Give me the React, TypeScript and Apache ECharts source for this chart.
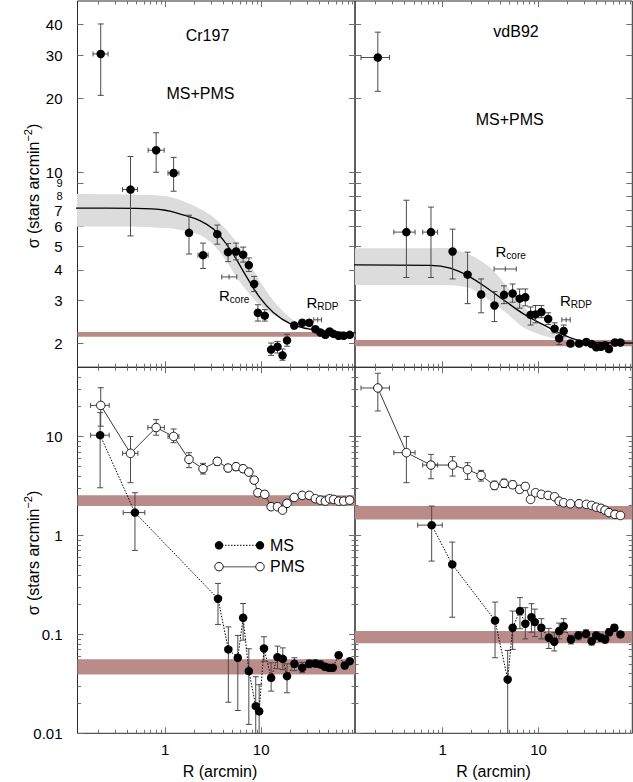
import React, { useEffect, useRef } from "react";
import * as echarts from "echarts";

const FONT = '"Liberation Sans", Arial, Helvetica, sans-serif';
const lg = (v: number) => Math.log10(v);

// ---------- axes ----------
const X_RANGE = [0.122, 95];
const Y_TOP_RANGE = [1.6, 50];
const Y_BOT_RANGE = [0.01, 50];

const X_MAJOR_TICKS = [1, 10];
const X_MINOR_TICKS = [0.2, 0.3, 0.4, 0.5, 0.6, 0.7, 0.8, 0.9, 2, 3, 4, 5, 6, 7, 8, 9, 20, 30, 40, 50, 60, 70, 80, 90];
const X_TICK_LABELS = [1, 10];
const Y_TOP_TICKS = [2, 3, 4, 5, 6, 7, 8, 9, 10, 20, 30, 40];
const Y_TOP_LABELS = [2, 3, 4, 5, 6, 7, 8, 9, 10, 20, 30, 40];
const Y_TOP_CROWDED_LABELS = [8, 9];
const Y_BOT_MAJOR_TICKS = [0.01, 0.1, 1, 10];
const Y_BOT_MINOR_TICKS = [0.02, 0.03, 0.04, 0.05, 0.06, 0.07, 0.08, 0.09, 0.2, 0.3, 0.4, 0.5, 0.6, 0.7, 0.8, 0.9, 2, 3, 4, 5, 6, 7, 8, 9, 20, 30, 40];
const Y_BOT_LABELS = [0.01, 0.1, 1, 10];

// ---------- Cr197 (MS+PMS, top left) ----------
const crR = [0.213, 0.435, 0.805, 1.224, 1.77, 2.48, 3.49, 4.52, 5.48, 6.49, 7.44, 8.45, 9.24, 10.9, 12.7, 14.8, 16.7, 18.6, 22.1, 26.8, 31.7, 36.7, 41.4, 46.6, 51.7, 56.9, 64.2, 72.4, 83.7];
const crAll = [30.4, 8.5, 12.3, 9.93, 5.66, 4.59, 5.59, 4.72, 4.75, 4.61, 4.18, 3.5, 2.67, 2.6, 1.89, 1.94, 1.79, 2.06, 2.37, 2.43, 2.43, 2.29, 2.22, 2.17, 2.24, 2.19, 2.15, 2.15, 2.17];
const crAllLo = [20.6, 5.5, 10.0, 8.37, 4.64, 4.05, 5.09, 4.32, 4.39, 4.3, 3.94, 3.26, 2.47, 2.47, 1.79, 1.83, 1.71, 1.95, 2.3, 2.37, 2.37, 2.24, 2.18, 2.13, 2.2, 2.15, 2.12, 2.12, 2.14];
const crAllHi = [40.3, 11.6, 14.5, 11.5, 6.68, 5.14, 6.09, 5.12, 5.14, 4.95, 4.47, 3.76, 2.88, 2.75, 2.01, 2.04, 1.9, 2.18, 2.44, 2.5, 2.5, 2.34, 2.27, 2.21, 2.28, 2.23, 2.18, 2.18, 2.2];
const crXLo = [0.177, 0.359, 0.664, 1.07, null, 2.2];
const crXHi = [0.254, 0.515, 0.976, 1.39, null, 2.8];
const crBg = [2.13, 2.23];
const crFitR = [0.09, 0.122, 0.5, 1.0, 1.5, 2.3, 3.2, 4.4, 5.5, 7.0, 9.7, 13.4, 20, 30, 50, 95, 130];
const crFit = [7.14, 7.14, 7.12, 7.0, 6.72, 6.35, 5.85, 5.05, 4.42, 3.76, 3.08, 2.68, 2.41, 2.3, 2.24, 2.21, 2.2];
const crFitHi = [8.15, 8.15, 8.1, 8.0, 7.65, 7.1, 6.55, 5.8, 5.2, 4.48, 3.6, 3.0, 2.55, 2.34, 2.25, 2.22, 2.21];
const crFitLo = [6.0, 6.0, 6.0, 5.92, 5.8, 5.55, 5.05, 4.3, 3.75, 3.31, 2.87, 2.62, 2.42, 2.3, 2.22, 2.19, 2.19];
// Rcore / RRDP markers: [R, sigma, Rlo, Rhi]
const crRcore = [4.63, 3.74, 3.89, 5.57];
const crRrdp = [38.8, 2.5, 35.3, 42.6];

// ---------- vdB92 (MS+PMS, top right) ----------
const vdR = [0.211, 0.419, 0.756, 1.27, 1.82, 2.52, 3.47, 4.37, 5.37, 6.35, 7.28, 8.26, 9.31, 10.7, 12.6, 14.7, 16.4, 18.3, 21.5, 26.5, 31.5, 35.8, 40.0, 44.8, 49.3, 54.2, 62.6, 71.5];
const vdAll = [29.4, 5.7, 5.7, 4.75, 3.82, 3.17, 2.86, 3.16, 3.2, 3.05, 3.09, 2.62, 2.63, 2.69, 2.52, 2.3, 2.1, 2.25, 2.0, 2.0, 2.03, 1.99, 1.93, 1.94, 1.97, 1.9, 2.02, 2.02];
const vdAllLo = [21.4, 3.72, 3.72, 3.67, 2.91, 2.67, 2.46, 2.91, 2.95, 2.79, 2.85, 2.38, 2.43, 2.55, 2.39, 2.21, 1.98, 2.13, 1.95, 1.95, 1.98, 1.95, 1.89, 1.9, 1.93, 1.86, 1.98, 1.98];
const vdAllHi = [37.3, 7.69, 7.21, 5.86, 4.72, 3.67, 3.26, 3.44, 3.5, 3.34, 3.34, 2.82, 2.86, 2.86, 2.67, 2.43, 2.21, 2.38, 2.05, 2.05, 2.08, 2.03, 1.97, 1.98, 2.01, 1.94, 2.06, 2.06];
const vdXLo = [0.141, 0.31, 0.62];
const vdXHi = [0.279, 0.516, 0.887];
const vdBg = [1.95, 2.07];
const vdFitR = [0.09, 0.122, 0.75, 1.2, 1.9, 3.1, 4.6, 6.9, 10.3, 15.4, 25, 43.5, 95, 130];
const vdFit = [4.19, 4.19, 4.17, 4.06, 3.75, 3.31, 2.96, 2.65, 2.43, 2.24, 2.07, 2.02, 2.01, 2.01];
const vdFitHi = [4.9, 4.9, 4.9, 4.88, 4.62, 4.1, 3.45, 2.85, 2.42, 2.16, 2.06, 2.03, 2.02, 2.02];
const vdFitLo = [3.47, 3.47, 3.47, 3.46, 3.37, 3.0, 2.67, 2.33, 2.18, 2.09, 2.03, 2.01, 2.0, 2.0];
const vdRcore = [4.5, 4.03, 3.44, 5.86];
const vdRrdp = [19.4, 2.5, 17.5, 21.4];

// ---------- Cr197 MS / PMS (bottom left) ----------
const crPms = [20.6, 6.75, 12.3, 10.0, 5.87, 4.72, 5.6, 4.8, 4.95, 4.72, 4.36, 3.62, 2.7, 2.6, 1.95, 1.95, 1.8, 2.11, 2.42, 2.54, 2.54, 2.35, 2.27, 2.22, 2.35, 2.31, 2.22, 2.22, 2.27];
const crPmsLo = [12.7, 3.41, 10.3, 8.65, 4.84, 4.17, 5.1, 4.4, 4.55, 4.35, 4.05, 3.35, 2.5, 2.42, 1.83, 1.84, 1.7, 2.0, 2.33, 2.45, 2.45, 2.28, 2.2, 2.16, 2.28, 2.24, 2.16, 2.16, 2.2];
const crPmsHi = [31.1, 10.0, 14.8, 11.9, 6.85, 5.35, 6.1, 5.2, 5.35, 5.1, 4.7, 3.9, 2.9, 2.8, 2.08, 2.07, 1.92, 2.23, 2.52, 2.63, 2.63, 2.42, 2.34, 2.28, 2.42, 2.38, 2.28, 2.28, 2.34];
const crPmsXLo = [0.167, 0.36, 0.66, 1.07];
const crPmsXHi = [0.261, 0.52, 0.98, 1.39];
const crMsR = [0.21, 0.484, 3.55, 4.55, 5.71, 6.49, 7.44, 8.78, 9.53, 10.7, 12.7, 14.8, 16.8, 18.6, 22.2, 26.8, 31.7, 36.7, 41.4, 46.2, 50.8, 55.7, 64.2, 74.4, 83.7];
const crMs = [10.3, 1.7, 0.229, 0.0704, 0.058, 0.147, 0.0425, 0.0188, 0.0167, 0.072, 0.0364, 0.0588, 0.0566, 0.0378, 0.0504, 0.046, 0.0504, 0.0508, 0.0497, 0.047, 0.046, 0.046, 0.0616, 0.0485, 0.0536];
const crMsLo = [3.03, 0.705, 0.126, 0.0206, 0.017, 0.0874, 0.0123, 0.005, 0.005, 0.0536, 0.0267, 0.0449, 0.044, 0.0257, 0.043, 0.041, 0.046, 0.047, 0.046, 0.044, 0.043, 0.043, 0.058, 0.045, 0.05];
const crMsHi = [17.4, 2.7, 0.327, 0.119, 0.0975, 0.205, 0.0715, 0.0373, 0.031, 0.0946, 0.0516, 0.076, 0.073, 0.0504, 0.058, 0.052, 0.055, 0.055, 0.054, 0.05, 0.049, 0.049, 0.065, 0.052, 0.057];
const crMsXLo = [0.167, 0.365];
const crMsXHi = [0.261, 0.614];
const crPmsBg = [1.98, 2.54];
const crMsBg = [0.0394, 0.0559];

// ---------- vdB92 MS / PMS (bottom right) ----------
const vdPms = [30.9, 6.86, 5.14, 5.14, 4.62, 4.04, 3.2, 3.36, 3.25, 2.92, 3.13, 2.31, 2.7, 2.6, 2.54, 2.46, 2.22, 2.14, 2.09, 2.09, 2.06, 2.01, 1.93, 1.88, 1.8, 1.7, 1.63, 1.59];
const vdPmsLo = [18.1, 3.41, 3.74, 3.98, 3.68, 3.54, 2.9, 3.05, 2.98, 2.7, 2.9, 2.18, 2.55, 2.48, 2.43, 2.36, 2.14, 2.07, 2.03, 2.03, 2.0, 1.96, 1.88, 1.84, 1.76, 1.67, 1.6, 1.56];
const vdPmsHi = [43.5, 10.0, 6.59, 6.25, 5.43, 4.54, 3.54, 3.7, 3.55, 3.15, 3.38, 2.45, 2.86, 2.73, 2.66, 2.56, 2.3, 2.21, 2.15, 2.15, 2.12, 2.06, 1.98, 1.92, 1.84, 1.73, 1.66, 1.62];
const vdPmsXLo = [0.141, 0.31, 0.62];
const vdPmsXHi = [0.279, 0.516, 0.887];
const vdMsR = [0.769, 1.26, 3.52, 4.77, 5.37, 6.4, 7.28, 8.44, 9.14, 10.7, 12.8, 14.6, 16.4, 18.3, 21.8, 26.1, 31.3, 35.8, 40.0, 44.8, 49.5, 54.5, 61.7, 71.5];
const vdMs = [1.27, 0.509, 0.138, 0.035, 0.1166, 0.172, 0.128, 0.149, 0.133, 0.1166, 0.0924, 0.0842, 0.108, 0.121, 0.0888, 0.0975, 0.1014, 0.0854, 0.0975, 0.0924, 0.0888, 0.105, 0.1166, 0.0998];
const vdMsLo = [0.55, 0.149, 0.058, 0.005, 0.0705, 0.114, 0.09, 0.105, 0.095, 0.09, 0.072, 0.068, 0.09, 0.105, 0.08, 0.088, 0.092, 0.078, 0.089, 0.085, 0.082, 0.097, 0.108, 0.093];
const vdMsHi = [1.98, 0.856, 0.212, 0.0687, 0.172, 0.235, 0.186, 0.204, 0.18, 0.144, 0.115, 0.104, 0.13, 0.144, 0.098, 0.107, 0.111, 0.093, 0.106, 0.1, 0.096, 0.114, 0.126, 0.107];
const vdMsXLo = [0.55];
const vdMsXHi = [0.99];
const vdPmsBg = [1.45, 1.98];
const vdMsBg = [0.0812, 0.108];

// ---------- helpers ----------
const fmtNum = (v: number) => parseFloat(Math.pow(10, v).toPrecision(2));
const fmt = (v: number) => {
  const n = fmtNum(v);
  return Y_TOP_CROWDED_LABELS.indexOf(n) >= 0 ? "{s|" + n + "}" : String(n);
};

function axisSet(dim: "x" | "y", gridIndex: number, range: number[], major: number[], minor: number[], labels: number[] | null) {
  const positions = dim === "x" ? ["bottom", "top"] : ["left", "right"];
  const out: any[] = [];
  positions.forEach((pos, pi) => {
    [major, minor].forEach((vals, ki) => {
      const showLab = labels !== null && pi === 0 && ki === 0;
      out.push({
        type: "value",
        gridIndex,
        position: pos,
        min: lg(range[0]),
        max: lg(range[1]),
        axisLine: { show: false, onZero: false },
        splitLine: { show: false },
        axisTick: {
          show: vals.length > 0,
          inside: true,
          length: ki === 0 ? 6 : 3.5,
          customValues: vals.length ? vals.map(lg) : undefined,
          lineStyle: { color: "#707070", width: 1 },
        },
        axisLabel: {
          show: showLab,
          customValues: showLab ? labels!.map(lg) : undefined,
          formatter: fmt,
          margin: dim === "x" ? 9 : 15,
          fontSize: 15,
          fontFamily: FONT,
          color: "#000",
          rich: { s: { fontSize: 11, fontFamily: FONT, color: "#000" } },
        },
      });
    });
  });
  return out;
}

const pts = (R: number[], S: number[]) => R.map((r, i) => [lg(r), lg(S[i])]);
const errs = (R: number[], S: number[], lo: number[], hi: number[], xlo: any[], xhi: any[]) =>
  R.map((r, i) => [lg(r), lg(S[i]), lg(xlo[i] ?? r), lg(xhi[i] ?? r), lg(lo[i] ?? S[i]), lg(hi[i] ?? S[i])]);
const markerRow = (m: number[]) => [lg(m[0]), lg(m[1]), lg(m[2]), lg(m[3]), lg(m[1]), lg(m[1])];

function errRender(params: any, api: any) {
  const x = api.value(0), y = api.value(1);
  const xl = api.value(2), xh = api.value(3), yl = api.value(4), yh = api.value(5);
  const c = api.coord([x, y]);
  const st = { stroke: "#4a4a4a", lineWidth: 1 };
  const ch: any[] = [];
  if (yh - yl > 1e-9) {
    const a = api.coord([x, yl]), b = api.coord([x, yh]);
    ch.push({ type: "line", shape: { x1: c[0], y1: a[1], x2: c[0], y2: b[1] }, style: st });
    ch.push({ type: "line", shape: { x1: c[0] - 3, y1: a[1], x2: c[0] + 3, y2: a[1] }, style: st });
    ch.push({ type: "line", shape: { x1: c[0] - 3, y1: b[1], x2: c[0] + 3, y2: b[1] }, style: st });
  }
  if (xh - xl > 1e-9) {
    const a = api.coord([xl, y]), b = api.coord([xh, y]);
    ch.push({ type: "line", shape: { x1: a[0], y1: c[1], x2: b[0], y2: c[1] }, style: st });
    ch.push({ type: "line", shape: { x1: a[0], y1: c[1] - 2.5, x2: a[0], y2: c[1] + 2.5 }, style: st });
    ch.push({ type: "line", shape: { x1: b[0], y1: c[1] - 2.5, x2: b[0], y2: c[1] + 2.5 }, style: st });
    ch.push({ type: "line", shape: { x1: c[0], y1: c[1] - 2.5, x2: c[0], y2: c[1] + 2.5 }, style: st });
  }
  return { type: "group", children: ch };
}

const BROWN = "#b98b89";
const bandArea = (bands: number[][]) => ({
  silent: true,
  itemStyle: { color: BROWN },
  label: { show: false },
  data: bands.map((b) => [{ yAxis: lg(b[0]) }, { yAxis: lg(b[1]) }]),
});

function errSeries(g: number, data: any[]) {
  return {
    type: "custom",
    xAxisIndex: 4 * g,
    yAxisIndex: 4 * g,
    renderItem: errRender,
    encode: { x: 0, y: 1 },
    data,
    clip: true,
    silent: true,
    z: 3,
  };
}

function fitBandSeries(g: number, fR: number[], fHi: number[], fLo: number[], bg: number[]) {
  return {
    type: "custom",
    xAxisIndex: 4 * g,
    yAxisIndex: 4 * g,
    encode: { x: 0, y: 1 },
    data: [[lg(fR[1]), lg(fHi[1])]],
    clip: true,
    silent: true,
    z: 1.5,
    renderItem: (params: any, api: any) => {
      const up = fR.map((r, i) => api.coord([lg(r), lg(fHi[i])]));
      const lo = fR.map((r, i) => api.coord([lg(r), lg(fLo[i])])).reverse();
      return {
        type: "polygon",
        shape: { points: [...up, ...lo], smooth: 0.3 },
        style: { fill: "#dcdcdc" },
      };
    },
    markArea: bandArea([bg]),
  };
}

function topPanel(g: number, R: number[], S: number[], lo: number[], hi: number[], xlo: any[], xhi: any[], bg: number[], fR: number[], f: number[], fHi: number[], fLo: number[], rc: number[], rr: number[]) {
  return [
    fitBandSeries(g, fR, fHi, fLo, bg),
    {
      type: "line", xAxisIndex: 4 * g, yAxisIndex: 4 * g, symbol: "none", silent: true,
      smooth: 0.4, lineStyle: { color: "#000", width: 1.3 }, z: 2,
      data: pts(fR, f),
    },
    errSeries(g, [...errs(R, S, lo, hi, xlo, xhi), markerRow(rc), markerRow(rr)]),
    {
      type: "scatter", xAxisIndex: 4 * g, yAxisIndex: 4 * g, symbol: "circle", symbolSize: 8.5, silent: true,
      itemStyle: { color: "#000", opacity: 1 }, z: 4,
      data: pts(R, S),
    },
  ];
}

function bottomPanel(g: number, pR: number[], pS: number[], pLo: number[], pHi: number[], pxlo: any[], pxhi: any[], mR: number[], mS: number[], mLo: number[], mHi: number[], mxlo: any[], mxhi: any[], pBg: number[], mBg: number[]) {
  return [
    errSeries(g, errs(pR, pS, pLo, pHi, pxlo, pxhi)),
    errSeries(g, errs(mR, mS, mLo, mHi, mxlo, mxhi)),
    {
      type: "line", xAxisIndex: 4 * g, yAxisIndex: 4 * g, symbol: "circle", symbolSize: 8.5, silent: true,
      lineStyle: { color: "#000", width: 1, type: [1.5, 1.5] }, itemStyle: { color: "#000", opacity: 1 }, z: 4,
      data: pts(mR, mS),
      markArea: bandArea([pBg, mBg]),
    },
    {
      type: "line", xAxisIndex: 4 * g, yAxisIndex: 4 * g, symbol: "circle", symbolSize: 8.5, silent: true,
      lineStyle: { color: "#3a3a3a", width: 1 }, itemStyle: { color: "#fff", borderColor: "#111", borderWidth: 1, opacity: 1 }, z: 5,
      data: pts(pR, pS),
    },
  ];
}

function plainText(x: number, y: number, text: string, size = 16) {
  return {
    type: "text", x, y, z: 100, silent: true,
    style: { text, fontSize: size, fontFamily: FONT, fill: "#000", align: "center", verticalAlign: "middle" },
  };
}

function subLabel(x: number, y: number, sub: string) {
  return {
    type: "text", x, y, z: 100, silent: true,
    style: {
      text: "{r|R}{s|" + sub + "}",
      align: "left", verticalAlign: "middle",
      rich: {
        r: { fontSize: 15, fontFamily: FONT, fill: "#000", lineHeight: 18, verticalAlign: "middle" },
        s: { fontSize: 10, fontFamily: FONT, fill: "#000", lineHeight: 10, verticalAlign: "bottom" },
      },
    },
  };
}

function yTitle(x: number, y: number) {
  return {
    type: "text", x, y, z: 100, rotation: Math.PI / 2, silent: true,
    style: {
      text: "{a|σ (stars arcmin}{s|−2}{a|)}",
      align: "center", verticalAlign: "middle",
      rich: {
        a: { fontSize: 16, fontFamily: FONT, fill: "#000", lineHeight: 22, verticalAlign: "middle" },
        s: { fontSize: 11, fontFamily: FONT, fill: "#000", lineHeight: 11, verticalAlign: "top" },
      },
    },
  };
}

function buildOption() {
  const grids = [
    { left: 77.5, top: 1, width: 277.5, height: 366.3 },
    { left: 355, top: 1, width: 277.3, height: 366.3 },
    { left: 77.5, top: 367.3, width: 277.5, height: 366 },
    { left: 355, top: 367.3, width: 277.3, height: 366 },
  ].map((g) => ({ ...g, show: true, borderColor: "#2a2a2a", borderWidth: 1, backgroundColor: "transparent" }));

  const xAxis = [
    ...axisSet("x", 0, X_RANGE, X_MAJOR_TICKS, X_MINOR_TICKS, null),
    ...axisSet("x", 1, X_RANGE, X_MAJOR_TICKS, X_MINOR_TICKS, null),
    ...axisSet("x", 2, X_RANGE, X_MAJOR_TICKS, X_MINOR_TICKS, X_TICK_LABELS),
    ...axisSet("x", 3, X_RANGE, X_MAJOR_TICKS, X_MINOR_TICKS, X_TICK_LABELS),
  ];
  const yAxis = [
    ...axisSet("y", 0, Y_TOP_RANGE, Y_TOP_TICKS, [], Y_TOP_LABELS),
    ...axisSet("y", 1, Y_TOP_RANGE, Y_TOP_TICKS, [], null),
    ...axisSet("y", 2, Y_BOT_RANGE, Y_BOT_MAJOR_TICKS, Y_BOT_MINOR_TICKS, Y_BOT_LABELS),
    ...axisSet("y", 3, Y_BOT_RANGE, Y_BOT_MAJOR_TICKS, Y_BOT_MINOR_TICKS, null),
  ];

  const series = [
    ...topPanel(0, crR, crAll, crAllLo, crAllHi, crXLo, crXHi, crBg, crFitR, crFit, crFitHi, crFitLo, crRcore, crRrdp),
    ...topPanel(1, vdR, vdAll, vdAllLo, vdAllHi, vdXLo, vdXHi, vdBg, vdFitR, vdFit, vdFitHi, vdFitLo, vdRcore, vdRrdp),
    ...bottomPanel(2, crR, crPms, crPmsLo, crPmsHi, crPmsXLo, crPmsXHi, crMsR, crMs, crMsLo, crMsHi, crMsXLo, crMsXHi, crPmsBg, crMsBg),
    ...bottomPanel(3, vdR, vdPms, vdPmsLo, vdPmsHi, vdPmsXLo, vdPmsXHi, vdMsR, vdMs, vdMsLo, vdMsHi, vdMsXLo, vdMsXHi, vdPmsBg, vdMsBg),
  ];

  const graphic = [
    plainText(207.5, 35, "Cr197"),
    plainText(200.5, 93, "MS+PMS"),
    plainText(516, 31.7, "vdB92"),
    plainText(509.7, 119.7, "MS+PMS"),
    subLabel(219, 295, "core"),
    subLabel(306.5, 302, "RDP"),
    subLabel(495.5, 251.5, "core"),
    subLabel(560, 300.5, "RDP"),
    yTitle(33, 186),
    yTitle(33, 553),
    plainText(220, 771.5, "R (arcmin)"),
    plainText(493.5, 771.5, "R (arcmin)"),
    // legend
    { type: "line", z: 100, silent: true, shape: { x1: 219, y1: 545.3, x2: 260, y2: 545.3 }, style: { stroke: "#000", lineWidth: 1, lineDash: [1.5, 1.5] } },
    { type: "circle", z: 101, silent: true, shape: { cx: 219, cy: 545.3, r: 4.2 }, style: { fill: "#000" } },
    { type: "circle", z: 101, silent: true, shape: { cx: 260, cy: 545.3, r: 4.2 }, style: { fill: "#000" } },
    { type: "text", z: 100, silent: true, x: 270, y: 545.3, style: { text: "MS", fontSize: 16, fontFamily: FONT, fill: "#000", align: "left", verticalAlign: "middle" } },
    { type: "line", z: 100, silent: true, shape: { x1: 219, y1: 566.7, x2: 260, y2: 566.7 }, style: { stroke: "#8a8a8a", lineWidth: 1.5 } },
    { type: "circle", z: 101, silent: true, shape: { cx: 219, cy: 566.7, r: 4.2 }, style: { fill: "#fff", stroke: "#111", lineWidth: 1 } },
    { type: "circle", z: 101, silent: true, shape: { cx: 260, cy: 566.7, r: 4.2 }, style: { fill: "#fff", stroke: "#111", lineWidth: 1 } },
    { type: "text", z: 100, silent: true, x: 270, y: 566.7, style: { text: "PMS", fontSize: 16, fontFamily: FONT, fill: "#000", align: "left", verticalAlign: "middle" } },
  ];

  return {
    animation: false,
    backgroundColor: "#fff",
    grid: grids,
    xAxis,
    yAxis,
    series,
    graphic,
  };
}

export default function App() {
  const ref = useRef<HTMLDivElement>(null);
  useEffect(() => {
    const chart = echarts.init(ref.current!, null, { renderer: "svg" });
    chart.setOption(buildOption() as any);
    return () => chart.dispose();
  }, []);
  return <div ref={ref} style={{ position: "absolute", left: 0, top: 0, width: 633, height: 782 }} />;
}
